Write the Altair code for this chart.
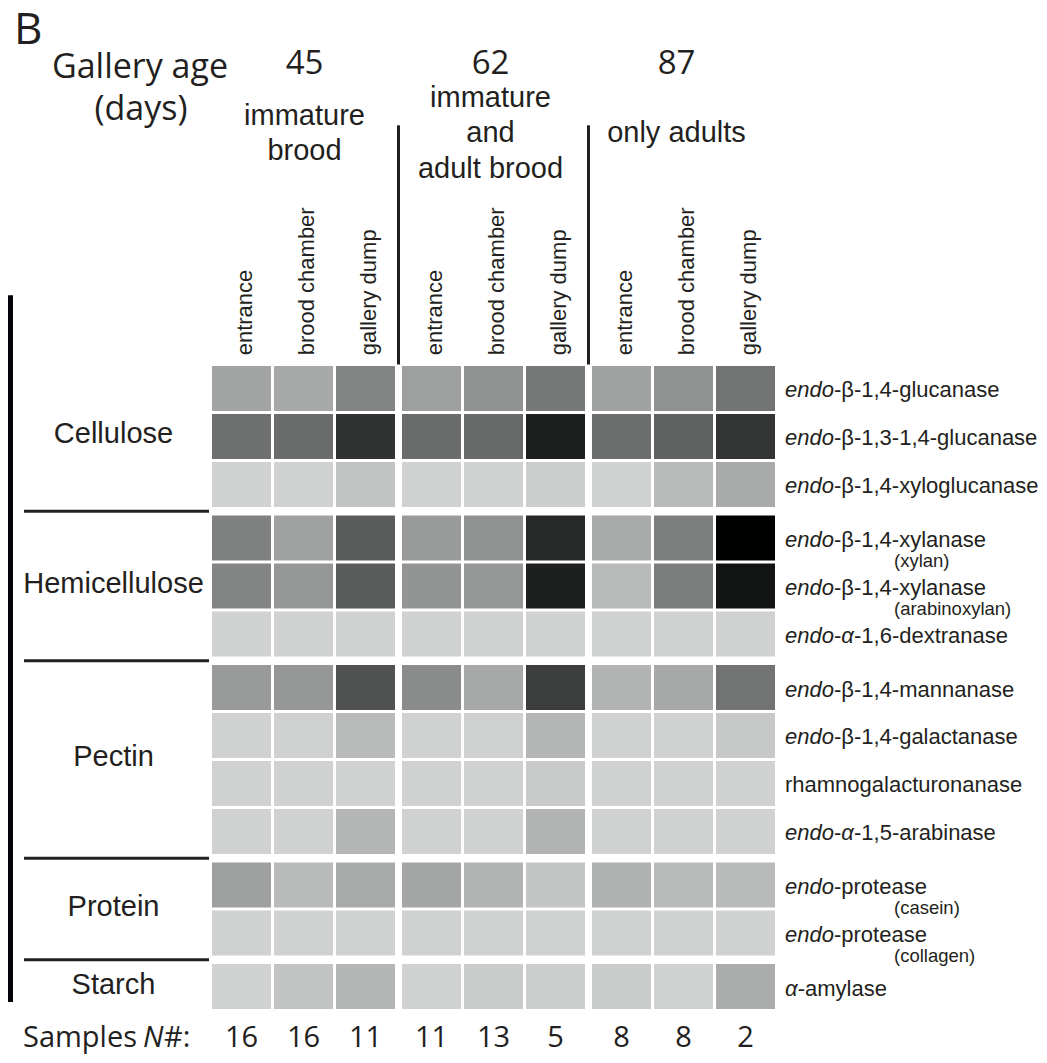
import altair as alt
import pandas as pd

# ---------------- data ----------------
panel_letter = "B"
age_title = ["Gallery age", "(days)"]
ages = ["45", "62", "87"]
brood_stage = [["immature", "brood"], ["immature", "and", "adult brood"], ["only adults"]]
locations = ["entrance", "brood chamber", "gallery dump"]
samples_label = ["Samples ", "N", "#:"]
samples_n = [16, 16, 11, 11, 13, 5, 8, 8, 2]
categories = ["Cellulose", "Hemicellulose", "Pectin", "Protein", "Starch"]
category_rows = [3, 3, 4, 2, 1]
# '*' toggles italic
enzymes = [
    "*endo*-β-1,4-glucanase",
    "*endo*-β-1,3-1,4-glucanase",
    "*endo*-β-1,4-xyloglucanase",
    "*endo*-β-1,4-xylanase",
    "*endo*-β-1,4-xylanase",
    "*endo*-*α*-1,6-dextranase",
    "*endo*-β-1,4-mannanase",
    "*endo*-β-1,4-galactanase",
    "rhamnogalacturonanase",
    "*endo*-*α*-1,5-arabinase",
    "*endo*-protease",
    "*endo*-protease",
    "*α*-amylase",
]
enzyme_substrate = ["", "", "", "(xylan)", "(arabinoxylan)", "", "", "", "",
                    "", "(casein)", "(collagen)", ""]
# relative enzyme activity (0 = lightest grey, 100 = black); 9 samples per enzyme
activity = [
    [20, 18, 34, 22, 28, 40, 21, 28, 42],
    [44, 46, 75, 46, 47, 86, 45, 51, 74],
    [0, 0, 6, 0, 0, 1.5, 0, 10, 17],
    [36, 21, 54, 24, 28, 81, 17, 37, 100],
    [34, 26, 54, 27, 26, 86, 10, 38, 93],
    [0, 0, 0, 0, 0, 0, 0, 0, 0],
    [24, 26, 59, 31, 18, 69, 13, 18, 42],
    [0, 0.5, 10, 0, 0.5, 12, 0, 0, 4],
    [0, 0, 0, 0, 0, 3, 0, 0, 0],
    [0, 0, 12, 0, 0, 13, 0, 0, 0],
    [22, 10, 17, 19, 13, 5, 14, 10, 10],
    [0, 0, 0, 0, 0, 0, 0, 0, 0],
    [0, 6, 12, 0, 2.5, 1.5, 2.5, 0, 16],
]

# ---------------- layout constants ----------------
CW = 59 / 62      # cell width (column units)
GX = 4 / 62       # extra gap between age groups
CH = 45 / 48      # cell height (row units)
GY = 5.6 / 48     # extra gap between substrate groups
X_MAX = 8 + 2 * GX + CW
Y_MAX = 12 + 4 * GY + CH
W, H = 563, 643
PPX = W / X_MAX
PPY = H / Y_MAX
INK = "#231f20"
ARIAL = "Liberation Sans"
MYRIAD = "Open Sans"
STAGE_LH = 35.5
STAGE_MID = -223.7   # baseline of the middle header line (px above plot top)
HEADER_SHIFT = [1, -3, -7]   # small horizontal nudges of the group headers (px)

row_cat = []
for k, n in enumerate(category_rows):
    row_cat += [k] * n


def col_left(c):
    return c + (c // 3) * GX


def row_top(r):
    return r + row_cat[r] * GY


# Arial advance widths (1/1000 em)
AW = {' ': 278, '-': 333, ',': 278, '(': 333, ')': 333, 'α': 578, 'β': 575}
for ch in "0123456789":
    AW[ch] = 556
AW.update(dict(a=556, b=556, c=500, d=556, e=556, f=278, g=556, h=556, i=222,
               j=222, k=500, l=222, m=833, n=556, o=556, p=556, q=556, r=333,
               s=500, t=278, u=556, v=500, w=722, x=500, y=500, z=500))


def text_w(s, size):
    return sum(AW.get(ch, 556) for ch in s) * size / 1000.0


# ---------------- tables ----------------
cells = []
for r, vals in enumerate(activity):
    for c, v in enumerate(vals):
        x0 = col_left(c)
        y0 = row_top(r)
        cells.append(dict(x0=x0, x1=x0 + CW, y0=y0, y1=y0 + CH, act=v))
cells = pd.DataFrame(cells)

cols = pd.DataFrame([dict(xc=col_left(c) + CW / 2, loc=locations[c % 3],
                          n=str(samples_n[c])) for c in range(9)])
gcenter = [(col_left(3 * g) + col_left(3 * g + 2) + CW) / 2 + HEADER_SHIFT[g] / PPX
           for g in range(3)]
groups = pd.DataFrame([dict(xc=gcenter[g], age=ages[g]) for g in range(3)])
stage_rows = []
for g, lines in enumerate(brood_stage):
    n = len(lines)
    for i, t in enumerate(lines):
        stage_rows.append(dict(xc=gcenter[g], t=t,
                               yl=(STAGE_MID + (i - (n - 1) / 2) * STAGE_LH) / PPY))
stage_df = pd.DataFrame(stage_rows)
dividers = pd.DataFrame([dict(xd=(col_left(3 * g - 1) + CW + col_left(3 * g)) / 2)
                         for g in (1, 2)])

first_rows = [sum(category_rows[:k]) for k in range(len(categories))]
cat_df = pd.DataFrame([dict(
    cat=categories[k],
    yc=(row_top(first_rows[k]) + row_top(first_rows[k] + category_rows[k] - 1) + CH) / 2)
    for k in range(len(categories))])
sep_df = pd.DataFrame([dict(
    yb=(row_top(first_rows[k] - 1) + CH + row_top(first_rows[k])) / 2)
    for k in range(1, len(categories))])

LABEL_X = 573.0
LABEL_SIZE = 22
segs = []
for r, lab in enumerate(enzymes):
    parts = lab.split("*")
    off = 0.0
    for i, p in enumerate(parts):
        if p == "":
            continue
        segs.append(dict(xs=(LABEL_X + off) / PPX, yc=row_top(r) + CH / 2,
                         t=p, italic=(i % 2 == 1)))
        off += text_w(p, LABEL_SIZE)
segs = pd.DataFrame(segs)
sub_df = pd.DataFrame([dict(xs=682 / PPX, yc=row_top(r) + CH / 2, t=s)
                       for r, s in enumerate(enzyme_substrate) if s])

xs = alt.Scale(domain=[0, X_MAX], nice=False, zero=False)
ys = alt.Scale(domain=[0, Y_MAX], nice=False, zero=False, reverse=True)


def X(f):
    return alt.X(f, type="quantitative", scale=xs, axis=None)


def Y(f):
    return alt.Y(f, type="quantitative", scale=ys, axis=None)


one = pd.DataFrame({"k": [0]})
SAMPLES_Y = 681

heat = alt.Chart(cells).mark_rect().encode(
    x=X("x0"), x2="x1", y=Y("y0"), y2="y1",
    color=alt.Color("act:Q", scale=alt.Scale(domain=[0, 100],
                                             range=["#d0d2d2", "#000000"]),
                    legend=None))

col_text = alt.Chart(cols).mark_text(
    angle=270, align="left", baseline="middle", dy=3, font=ARIAL,
    fontSize=22, color=INK).encode(x=X("xc"), y=alt.value(-10.7), text="loc:N")

n_text = alt.Chart(cols).mark_text(
    align="center", baseline="alphabetic", font=MYRIAD, fontSize=29,
    color=INK).encode(x=X("xc"), y=alt.value(SAMPLES_Y), text="n:N")

age_text = alt.Chart(groups).mark_text(
    align="center", baseline="alphabetic", font=MYRIAD, fontSize=33,
    color=INK).encode(x=X("xc"), y=alt.value(-291.7), text="age:N")

stage_text = alt.Chart(stage_df).mark_text(
    align="center", baseline="alphabetic", font=ARIAL, fontSize=29,
    color=INK).encode(x=X("xc"), y=Y("yl"), text="t:N")

div_rules = alt.Chart(dividers).mark_rule(strokeWidth=3, color=INK).encode(
    x=X("xd"), y=alt.value(-240.7), y2=alt.value(-1.5))

cat_text = alt.Chart(cat_df).mark_text(
    align="center", baseline="alphabetic", dy=7, font=ARIAL, fontSize=29,
    color=INK).encode(x=alt.value(-98.5), y=Y("yc"), text="cat:N")

sep_rules = alt.Chart(sep_df).mark_rule(strokeWidth=3, color=INK).encode(
    y=Y("yb"), x=alt.value(-188), x2=alt.value(-3))

lab_reg = alt.Chart(segs).transform_filter("!datum.italic").mark_text(
    align="left", baseline="alphabetic", dy=9, font=ARIAL, fontSize=LABEL_SIZE,
    color=INK).encode(x=X("xs"), y=Y("yc"), text="t:N")
lab_it = alt.Chart(segs).transform_filter("datum.italic").mark_text(
    align="left", baseline="alphabetic", dy=9, font=ARIAL, fontSize=LABEL_SIZE,
    fontStyle="italic", color=INK).encode(x=X("xs"), y=Y("yc"), text="t:N")
sub_text = alt.Chart(sub_df).mark_text(
    align="left", baseline="alphabetic", dy=29, font=ARIAL, fontSize=18.5,
    color=INK).encode(x=X("xs"), y=Y("yc"), text="t:N")

letter = alt.Chart(one).mark_text(
    align="left", baseline="alphabetic", font=MYRIAD, fontSize=44, color=INK,
    text=panel_letter).encode(x=alt.value(-198), y=alt.value(-322))
title1 = alt.Chart(one).mark_text(
    align="center", baseline="alphabetic", font=MYRIAD, fontSize=34, color=INK,
    text=age_title[0]).encode(x=alt.value(-72), y=alt.value(-287.7))
title2 = alt.Chart(one).mark_text(
    align="center", baseline="alphabetic", font=MYRIAD, fontSize=34, color=INK,
    text=age_title[1]).encode(x=alt.value(-71), y=alt.value(-246))

s1 = alt.Chart(one).mark_text(
    align="left", baseline="alphabetic", font=MYRIAD, fontSize=29, color=INK,
    text=samples_label[0]).encode(x=alt.value(-189), y=alt.value(SAMPLES_Y))
s2 = alt.Chart(one).mark_text(
    align="left", baseline="alphabetic", font=MYRIAD, fontSize=29, color=INK,
    fontStyle="italic", text=samples_label[1]).encode(x=alt.value(-69), y=alt.value(SAMPLES_Y))
s3 = alt.Chart(one).mark_text(
    align="left", baseline="alphabetic", font=MYRIAD, fontSize=29, color=INK,
    text=samples_label[2]).encode(x=alt.value(-48), y=alt.value(SAMPLES_Y))

edge_bar = alt.Chart(one).mark_rect(color="#03040b").encode(
    x=alt.value(-204), x2=alt.value(-199), y=alt.value(-70.7), y2=alt.value(636))

chart = alt.layer(
    heat, col_text, n_text, age_text, stage_text, div_rules, cat_text, sep_rules,
    lab_reg, lab_it, sub_text, letter, title1, title2, s1, s2, s3, edge_bar
).properties(
    width=W, height=H,
    padding={"left": 204, "top": 358, "right": 264, "bottom": 46},
    autosize=alt.AutoSizeParams(type="none"),
    background="white",
).configure_view(stroke=None)

chart.save("out.html", embed_options={"renderer": "svg", "actions": False})
